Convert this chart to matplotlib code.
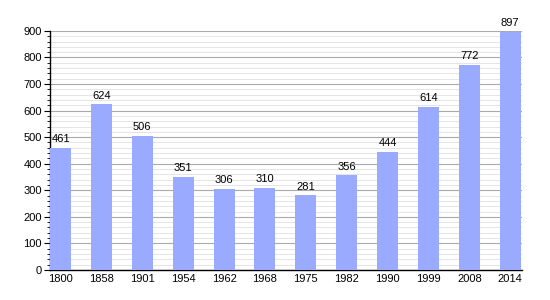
import matplotlib
matplotlib.use("Agg")
import matplotlib.pyplot as plt
from matplotlib.ticker import MultipleLocator
import numpy as np

plt.rcParams["font.family"] = ["Liberation Sans", "DejaVu Sans"]

years = ["1800", "1858", "1901", "1954", "1962", "1968", "1975", "1982", "1990", "1999", "2008", "2014"]
population = [461, 624, 506, 351, 306, 310, 281, 356, 444, 614, 772, 897]

BAR_COLOR = "#99aaff"

fig = plt.figure(figsize=(5.5, 3), dpi=100)
ax = fig.add_axes([0.091, 0.1, 0.858, 0.797])

x = np.arange(len(years))
w = 0.515
ax.bar(x, population, width=w, color=BAR_COLOR, zorder=3)
for xi, v in zip(x, population):
    ax.text(xi, v + 14, str(v), ha="center", va="bottom", fontsize=8, zorder=4)

ax.set_xlim(-w / 2, len(years) - 1 + w / 2 + 0.03)
ax.set_ylim(0, 900)
ax.set_xticks(x)
ax.set_xticklabels(years, fontsize=8)
ax.tick_params(axis="x", length=0, pad=3)
ax.yaxis.set_major_locator(MultipleLocator(100))
ax.yaxis.set_minor_locator(MultipleLocator(20))
ax.tick_params(axis="y", which="major", length=4, labelsize=8, pad=2)
ax.tick_params(axis="y", which="minor", length=2)
ax.grid(axis="y", which="major", color="#aaaaaa", linewidth=0.8, zorder=1)
ax.grid(axis="y", which="minor", color="#e0e0e0", linewidth=0.6, zorder=0)

for s in ("top", "right"):
    ax.spines[s].set_visible(False)
ax.spines["left"].set_linewidth(1)
ax.spines["bottom"].set_linewidth(1)

fig.savefig("out.png", dpi=100)
